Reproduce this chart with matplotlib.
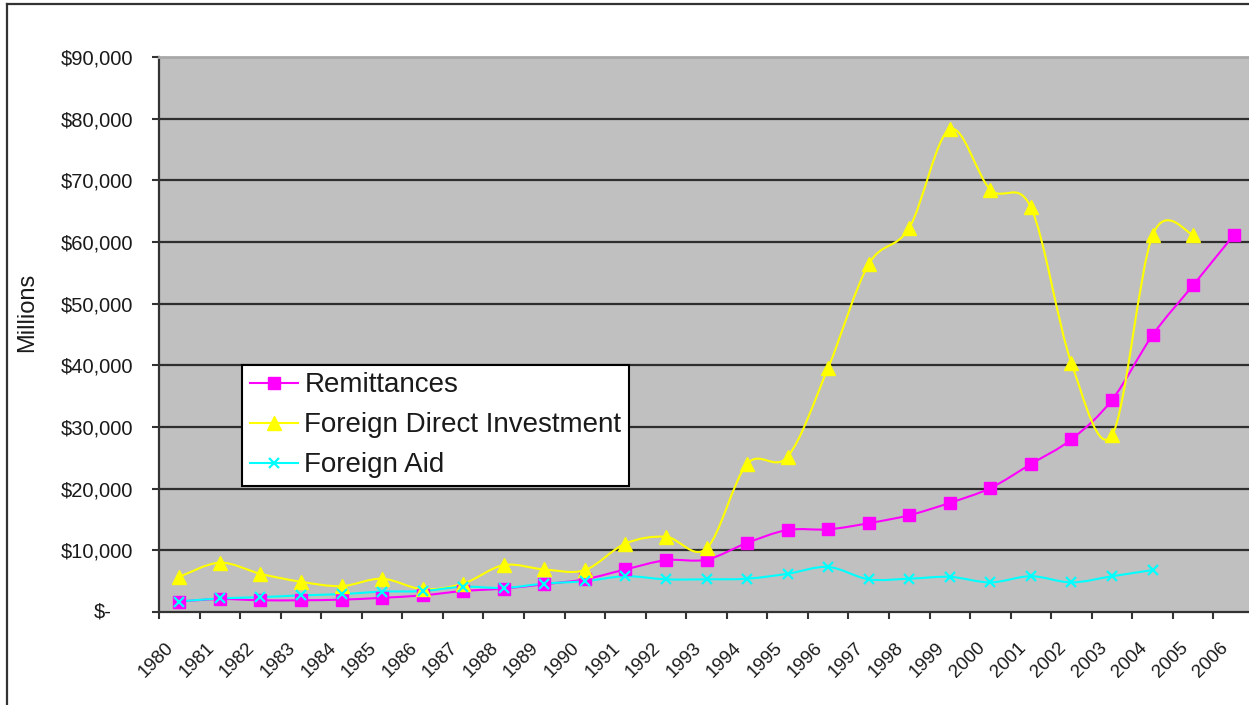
import numpy as np
import matplotlib
matplotlib.use("Agg")
import matplotlib.pyplot as plt
import matplotlib.transforms as mtransforms
from matplotlib.path import Path
from matplotlib.patches import PathPatch
from matplotlib.lines import Line2D

plt.rcParams["font.family"] = ["Liberation Sans", "DejaVu Sans"]

# data (US$ millions)
years = [str(y) for y in range(1980, 2007)]
remittances = [1700, 2100, 1900, 1900, 2000, 2300, 2700, 3400, 3800, 4500,
               5300, 6900, 8400, 8500, 11200, 13300, 13400, 14400, 15700, 17700,
               20100, 24000, 28000, 34400, 44900, 53000, 61100]
fdi = [5700, 8000, 6200, 4900, 4200, 5400, 3700, 4600, 7600, 6900,
       6800, 11100, 12200, 10300, 24000, 25200, 39600, 56400, 62300, 78300,
       68500, 65600, 40300, 28700, 61100, 61200]
foreign_aid = [1700, 2200, 2400, 2700, 2900, 3300, 3400, 4100, 3900, 4600,
               5000, 5800, 5300, 5300, 5400, 6200, 7300, 5300, 5400, 5700,
               4800, 5800, 4800, 5800, 6800]
yticks = list(range(0, 90001, 10000))

series = [
    ("Remittances", remittances, "#FF00FF", "s", 8, 1.0),
    ("Foreign Direct Investment", fdi, "#FFFF00", "^", 9.5, 1.0),
    ("Foreign Aid", foreign_aid, "#00FFFF", "x", 7, 1.6),
]


def smooth_path(vals):
    # Excel-style smoothed line: Catmull-Rom converted to cubic Bezier segments
    pts = np.column_stack([np.arange(len(vals)), np.asarray(vals, float)])
    verts = [pts[0]]
    codes = [Path.MOVETO]
    n = len(pts)
    for i in range(n - 1):
        p_prev = pts[i - 1] if i > 0 else pts[i]
        p_next = pts[i + 2] if i + 2 < n else pts[i + 1]
        verts += [pts[i] + (pts[i + 1] - p_prev) / 6,
                  pts[i + 1] - (p_next - pts[i]) / 6,
                  pts[i + 1]]
        codes += [Path.CURVE4] * 3
    return Path(verts, codes)


W, H = 1249, 705
fig = plt.figure(figsize=(W / 100, H / 100), dpi=100)
ax = fig.add_axes([159 / W, 1 - 612 / H, 1095 / W, 555 / H])
ax.set_facecolor("#C0C0C0")

handles = []
for label, vals, color, marker, ms, mew in series:
    ax.add_patch(PathPatch(smooth_path(vals), fill=False, edgecolor=color,
                           lw=1.5, zorder=3))
    ax.plot(range(len(vals)), vals, ls="none", marker=marker, ms=ms,
            color=color, mec=color, mew=mew, zorder=4)
    handles.append(Line2D([], [], color=color, lw=1.5, marker=marker, ms=ms,
                          mec=color, mew=mew, label=label))

ax.set_xlim(-0.5, len(years) - 0.5)
ax.set_ylim(0, 90000)

# gridlines
for v in yticks[1:-1]:
    ax.axhline(v, color="#2e2e2e", lw=1.6, zorder=1)

ax.set_yticks(yticks)
ax.set_yticklabels([""] + [f"${v:,}" for v in yticks[1:]])
ax.tick_params(axis="y", direction="out", length=5, width=1.5, color="#333333",
               pad=13.5, labelsize=14.5, labelcolor="#1a1a1a")
ax.annotate("$-", xy=(0, 0), xycoords=("axes fraction", "data"),
            xytext=(-34, 0), textcoords="offset points", ha="right",
            va="center", fontsize=14.5, color="#1a1a1a")

ax.set_xticks(np.arange(-0.5, len(years), 1.0))
ax.set_xticklabels([])
ax.tick_params(axis="x", direction="out", length=5, width=1.5, color="#333333")
lab_tr = mtransforms.offset_copy(ax.get_xaxis_transform(), fig=fig,
                                 x=-8, y=-33, units="dots")
for i, yr in enumerate(years):
    ax.text(i, 0, yr, transform=lab_tr, rotation=45, rotation_mode="anchor",
            ha="right", va="center", fontsize=13.5, color="#1a1a1a")

for side in ["left", "bottom"]:
    ax.spines[side].set_color("#333333")
    ax.spines[side].set_linewidth(1.6)
ax.spines["top"].set_color("#a8a8a8")
ax.spines["top"].set_linewidth(2)
ax.spines["right"].set_visible(False)

fig.text(27 / W, 1 - 312 / H, "Millions", rotation=90, ha="center",
         va="center", fontsize=17, color="#1a1a1a")

leg = ax.legend(handles=handles, loc="upper left",
                bbox_to_anchor=(242 / W, 1 - 365 / H),
                bbox_transform=fig.transFigure, fontsize=20, numpoints=1,
                handlelength=1.73, handletextpad=0.25, labelspacing=0.5,
                borderpad=0.27, borderaxespad=0, fancybox=False,
                framealpha=1, facecolor="white", edgecolor="black")
leg.get_frame().set_linewidth(1.5)
for t in leg.get_texts():
    t.set_color("#1a1a1a")

# outer chart border (top and left edges visible)
fig.add_artist(Line2D([7 / W, 7 / W], [0, 1 - 4 / H], color="#333333", lw=1.6,
                      transform=fig.transFigure))
fig.add_artist(Line2D([7 / W, 1], [1 - 4 / H, 1 - 4 / H], color="#333333",
                      lw=1.6, transform=fig.transFigure))

fig.savefig("out.png", dpi=100)
